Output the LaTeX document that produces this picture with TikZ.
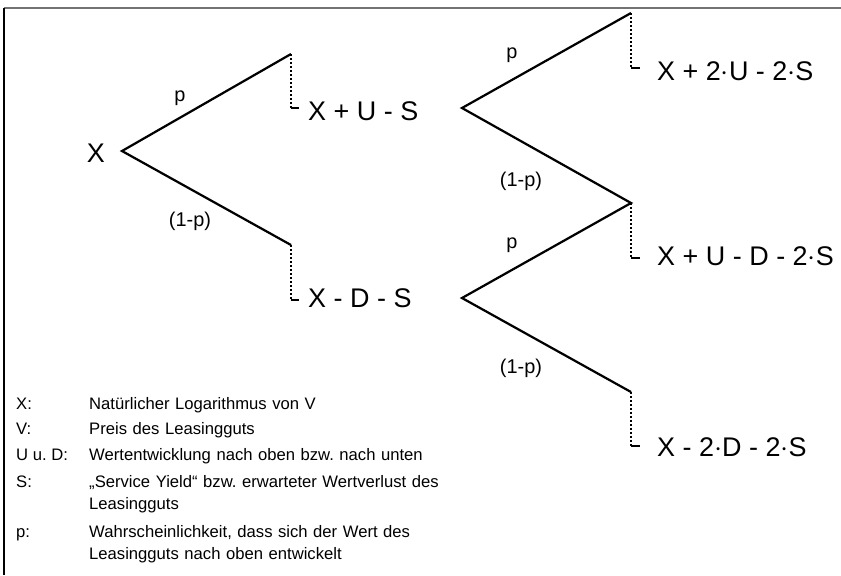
\documentclass[tikz,border=0pt]{standalone}
\usepackage{fontspec}
\setmainfont{Liberation Sans}
\frenchspacing
\usetikzlibrary{positioning}
\tikzset{
    branch/.style   = {line width=1.9pt, draw=black},
    dropline/.style = {line width=1.8pt, draw=black, dash pattern=on 1.7pt off 1.7pt},
    tickline/.style = {line width=1.9pt, draw=black},
    outcome/.style  = {anchor=west, inner sep=0pt, font=\fontsize{23}{27}\selectfont},
    problabel/.style = {inner sep=0pt, font=\fontsize{17}{20}\selectfont},
    legendkey/.style = {anchor=base west, inner sep=0pt, font=\fontsize{14.2}{19.6}\selectfont},
    legendtext/.style = {legendkey, text width=14cm, align=left}
}
\begin{document}
\begin{tikzpicture}[x=0.03cm, y=-0.03cm]
    \useasboundingbox (0,0) rectangle (841,575);

    % frame (top and left only)
    \draw[line width=1.5pt, draw=black!55] (4,8) -- (841,8);
    \draw[line width=1.4pt] (4,8) -- (4,575);

    % start value
    \node[outcome, anchor=east] (x) at (105,153) {X};
    \coordinate (r) at (122,151);

    % first period
    \coordinate (t1) at (291,54);
    \coordinate (t1f) at (291,108);
    \coordinate (t2) at (291,245);
    \coordinate (t2f) at (291,300);
    \draw[branch] (t1) -- (r) -- (t2);
    \draw[dropline] (t1) -- (t1f);
    \draw[dropline] (t2) -- (t2f);
    \draw[tickline] (t1f) -- ++(8,0);
    \draw[tickline] (t2f) -- ++(8,0);
    \node[problabel] (p1) at (180,98) {p};
    \node[problabel] (q1) at (190,221) {(1-p)};
    \node[outcome] (xus) at (308,111) {X + U - S};
    \node[outcome] (xds) at (308,298) {X - D - S};

    % second period
    \coordinate (v1) at (462,108);
    \coordinate (v2) at (462,298);
    \coordinate (s1) at (631,13);
    \coordinate (s1f) at (631,68);
    \coordinate (s2) at (631,203);
    \coordinate (s2f) at (631,258);
    \coordinate (s3) at (631,392);
    \coordinate (s3f) at (631,446);
    \draw[branch] (s1) -- (v1) -- (s2) -- (v2) -- (s3);
    \draw[dropline] (s1) -- (s1f);
    \draw[dropline] (s2) -- (s2f);
    \draw[dropline] (s3) -- (s3f);
    \draw[tickline] (s1f) -- ++(9,0);
    \draw[tickline] (s2f) -- ++(9,0);
    \draw[tickline] (s3f) -- ++(9,0);
    \node[problabel] (p2) at (512,55) {p};
    \node[problabel] (q2) at (521,181) {(1-p)};
    \node[problabel] (p3) at (512,245) {p};
    \node[problabel] (q3) at (521,368) {(1-p)};
    \node[outcome] (xuu) at (657,71) {X + 2$\cdot$U - 2$\cdot$S};
    \node[outcome] (xud) at (657,256) {X + U - D - 2$\cdot$S};
    \node[outcome] (xdd) at (657,447) {X - 2$\cdot$D - 2$\cdot$S};

    % legend
    \node[legendkey] (kx) at (16,409) {X:};
    \node[legendtext] (tx) at (89,409) {Natürlicher Logarithmus von V};
    \node[legendkey] (kv) at (16,434) {V:};
    \node[legendtext] (tv) at (89,434) {Preis des Leasingguts};
    \node[legendkey] (kud) at (16,460) {U u. D:};
    \node[legendtext] (tud) at (89,460) {Wertentwicklung nach oben bzw. nach unten};
    \node[legendkey] (ks) at (16,487) {S:};
    \node[legendtext] (ts) at (89,487) {„Service Yield“ bzw. erwarteter Wertverlust des\\Leasingguts};
    \node[legendkey] (kp) at (16,537) {p:};
    \node[legendtext] (tp) at (89,537) {Wahrscheinlichkeit, dass sich der Wert des\\Leasingguts nach oben entwickelt};
\end{tikzpicture}
\end{document}
